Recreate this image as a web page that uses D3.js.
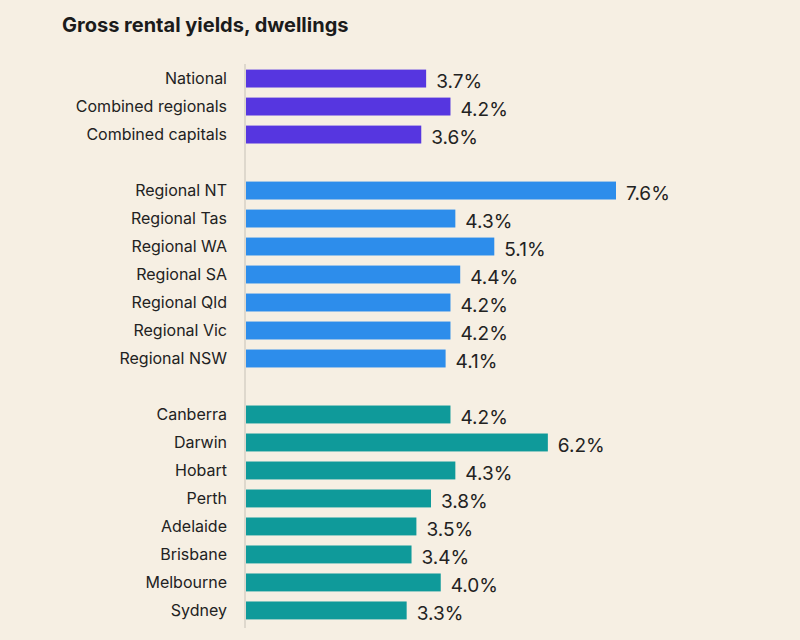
<!DOCTYPE html>
<html><head><meta charset="utf-8">
<script src="https://cdn.jsdelivr.net/npm/d3@7"></script>
<style>body{margin:0;background:#f6efe3;}</style>
</head><body>
<svg id="chart" width="800" height="640"></svg>
<script>
// rows in display order; null = spacer row between groups
const categories = ['National','Combined regionals','Combined capitals',null,
  'Regional NT','Regional Tas','Regional WA','Regional SA','Regional Qld','Regional Vic','Regional NSW',null,
  'Canberra','Darwin','Hobart','Perth','Adelaide','Brisbane','Melbourne','Sydney']
const yields = [3.7,4.2,3.6,null,7.6,4.3,5.1,4.4,4.2,4.2,4.1,null,4.2,6.2,4.3,3.8,3.5,3.4,4.0,3.3]
const groups = ['summary','summary','summary',null,'regional','regional','regional','regional','regional','regional','regional',null,
  'capital','capital','capital','capital','capital','capital','capital','capital']

const colour = {summary:'#5636e0', regional:'#2d8deb', capital:'#0f9a9a'}

const svg = d3.select('#chart')
svg.append('rect').attr('width',800).attr('height',640).attr('fill','#f6efe3')

svg.append('text').attr('x',62).attr('y',32)
  .attr('font-family','Inter, sans-serif').attr('font-weight',700).attr('font-size',20)
  .attr('fill','#1b1b1b').text('Gross rental yields, dwellings')

const rows = categories.map((c,i) => ({c, v: yields[i], g: groups[i], i}))

const y = d3.scaleBand().domain(d3.range(rows.length)).range([64,625]).paddingInner(0.36).paddingOuter(0.2)
const x = d3.scaleLinear().domain([0,7.6]).range([246,616])

svg.append('line').attr('x1',245).attr('x2',245).attr('y1',64).attr('y2',628)
  .attr('stroke','#d6d0c6').attr('stroke-width',1.5)

const data = rows.filter(d => d.c !== null)

svg.selectAll('.bar').data(data).enter().append('rect')
  .attr('x', x(0)).attr('y', d => y(d.i))
  .attr('width', d => x(d.v) - x(0)).attr('height', y.bandwidth())
  .attr('fill', d => colour[d.g])

svg.selectAll('.lab').data(data).enter().append('text')
  .attr('x', 227).attr('y', d => y(d.i) + y.bandwidth()/2).attr('dy','0.35em')
  .attr('text-anchor','end').attr('font-family','Inter, sans-serif').attr('font-size',16)
  .attr('fill','#222').text(d => d.c)

svg.selectAll('.val').data(data).enter().append('text')
  .attr('x', d => x(d.v) + 10).attr('y', d => y(d.i) + y.bandwidth()/2 + 3).attr('dy','0.35em')
  .attr('font-family','Inter, sans-serif').attr('font-size',19)
  .attr('fill','#222').text(d => d.v.toFixed(1) + '%')
</script>
</body></html>
